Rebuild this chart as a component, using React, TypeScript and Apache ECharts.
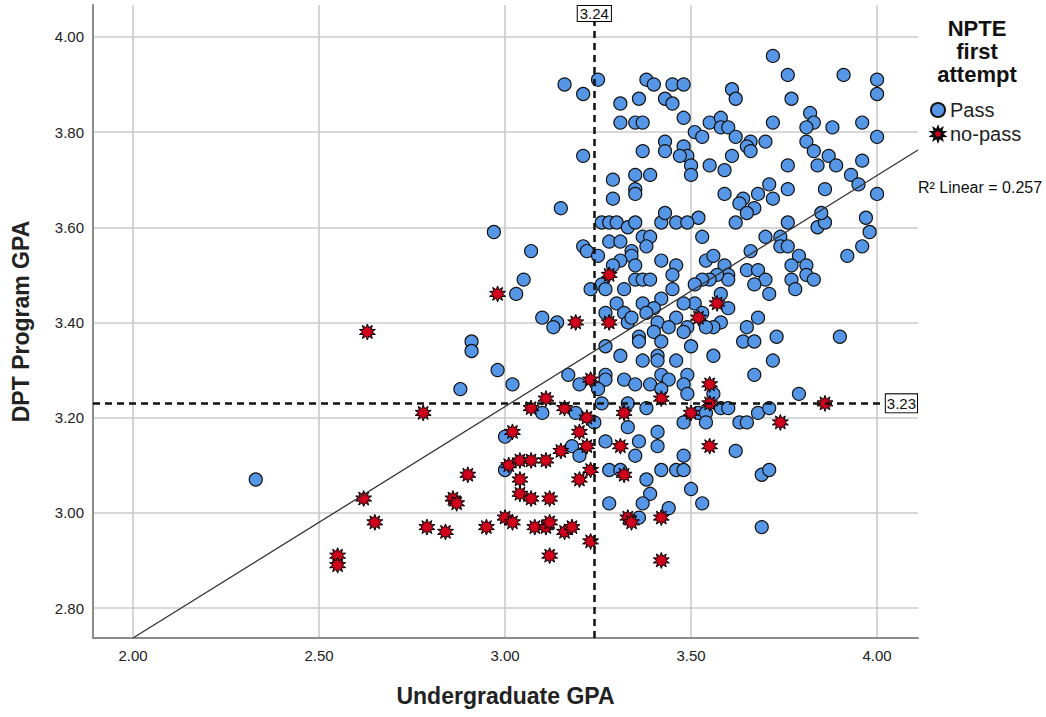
import React, { useEffect, useRef } from 'react';
import * as echarts from 'echarts';

const X_TICKS = [2.0, 2.5, 3.0, 3.5, 4.0];
const Y_TICKS = [2.8, 3.0, 3.2, 3.4, 3.6, 3.8, 4.0];
const X_RANGE = [1.8925, 4.11];
const Y_RANGE = [2.737, 4.067];
const REF_X = 3.24;
const REF_Y = 3.23;
const FIT_INTERCEPT = 1.765;
const FIT_SLOPE = 0.486;
const FIT_START_X = 2.0;
const R2_TEXT = 'R² Linear = 0.257';
const LEGEND_TITLE = 'NPTE\nfirst\nattempt';
const SERIES_NAMES = ['Pass', 'no-pass'];

const PASS = [
  [3.16, 3.90], [3.21, 3.88], [3.25, 3.91], [3.38, 3.91], [3.40, 3.90], [3.45, 3.90], [3.31, 3.86], [3.36, 3.87],
  [3.43, 3.87], [3.45, 3.86], [3.31, 3.82], [3.35, 3.82], [3.37, 3.82], [3.43, 3.78], [3.37, 3.76], [3.21, 3.75],
  [3.43, 3.76], [3.29, 3.70], [3.35, 3.71], [3.39, 3.71], [3.35, 3.68], [3.35, 3.67], [3.29, 3.66], [3.15, 3.64],
  [3.72, 3.96], [3.76, 3.92], [3.91, 3.92], [4.00, 3.91], [4.00, 3.88], [3.48, 3.90], [3.61, 3.89], [3.62, 3.87],
  [3.77, 3.87], [3.48, 3.83], [3.55, 3.82], [3.58, 3.83], [3.58, 3.81], [3.60, 3.81], [3.62, 3.79], [3.72, 3.82],
  [3.82, 3.84], [3.83, 3.82], [3.81, 3.81], [3.88, 3.81], [3.96, 3.82], [4.00, 3.79], [3.51, 3.80], [3.53, 3.79],
  [3.66, 3.78], [3.65, 3.77], [3.66, 3.76], [3.70, 3.78], [3.81, 3.78], [3.83, 3.76], [3.87, 3.75], [3.89, 3.73],
  [3.96, 3.74], [3.84, 3.73], [3.76, 3.73], [3.61, 3.75], [3.55, 3.73], [3.59, 3.72], [3.48, 3.77], [3.49, 3.75],
  [3.50, 3.73], [3.50, 3.71], [3.47, 3.75], [3.93, 3.71], [3.95, 3.69], [4.00, 3.67], [3.71, 3.69], [3.68, 3.67],
  [3.72, 3.66], [3.76, 3.68], [3.86, 3.68], [3.59, 3.67], [3.64, 3.66], [3.63, 3.65], [3.67, 3.64],
  [2.97, 3.59], [3.07, 3.55], [3.05, 3.49], [3.03, 3.46], [2.98, 3.30], [3.02, 3.27], [3.10, 3.41], [3.14, 3.40],
  [3.13, 3.39], [3.21, 3.56], [3.22, 3.55], [3.25, 3.54], [3.26, 3.61], [3.28, 3.61], [3.30, 3.61], [3.33, 3.60],
  [3.35, 3.61], [3.42, 3.61], [3.43, 3.63], [3.46, 3.61], [3.37, 3.58], [3.39, 3.58], [3.38, 3.56], [3.28, 3.57],
  [3.31, 3.57], [3.34, 3.55], [3.34, 3.54], [3.31, 3.53], [3.29, 3.52], [3.35, 3.52], [3.42, 3.53], [3.46, 3.52],
  [3.45, 3.50], [3.35, 3.49], [3.37, 3.49], [3.39, 3.49], [3.26, 3.48], [3.27, 3.47], [3.23, 3.47], [3.32, 3.47],
  [3.45, 3.47], [3.42, 3.45], [3.30, 3.44], [3.37, 3.44], [3.40, 3.43], [3.38, 3.42], [3.27, 3.42], [3.32, 3.42],
  [3.33, 3.40], [3.34, 3.41], [3.41, 3.40], [3.46, 3.41], [3.44, 3.39], [3.40, 3.38], [3.36, 3.37], [3.36, 3.36],
  [3.42, 3.36], [3.27, 3.35], [3.31, 3.33], [3.41, 3.33], [3.41, 3.32], [3.37, 3.32], [3.46, 3.32], [3.17, 3.29],
  [3.27, 3.29], [3.27, 3.28], [3.32, 3.28], [3.35, 3.27], [3.42, 3.29], [3.44, 3.28], [3.39, 3.27], [3.20, 3.27],
  [3.25, 3.26],
  [3.52, 3.62], [3.49, 3.61], [3.62, 3.61], [3.65, 3.63], [3.76, 3.61], [3.84, 3.60], [3.86, 3.61], [3.85, 3.63],
  [3.97, 3.62], [3.98, 3.59], [3.53, 3.58], [3.70, 3.58], [3.74, 3.58], [3.74, 3.56], [3.76, 3.56], [3.66, 3.55],
  [3.79, 3.54], [3.96, 3.56], [3.92, 3.54], [3.54, 3.53], [3.56, 3.54], [3.59, 3.52], [3.77, 3.52], [3.81, 3.52],
  [3.81, 3.50], [3.83, 3.49], [3.77, 3.49], [3.78, 3.47], [3.65, 3.51], [3.68, 3.51], [3.70, 3.49], [3.67, 3.48],
  [3.71, 3.46], [3.60, 3.50], [3.60, 3.49], [3.57, 3.50], [3.55, 3.49], [3.53, 3.49], [3.51, 3.48], [3.58, 3.46],
  [3.51, 3.44], [3.48, 3.44], [3.53, 3.42], [3.60, 3.43], [3.68, 3.41], [3.58, 3.40], [3.56, 3.39], [3.54, 3.39],
  [3.49, 3.39], [3.48, 3.38], [3.65, 3.39], [3.64, 3.36], [3.67, 3.36], [3.73, 3.37], [3.90, 3.37], [3.50, 3.35],
  [3.56, 3.33], [3.72, 3.32], [3.67, 3.29], [3.49, 3.29], [3.48, 3.27],
  [3.26, 3.23], [3.33, 3.23], [3.38, 3.22], [3.10, 3.21], [3.19, 3.21], [3.24, 3.19], [3.33, 3.18], [3.41, 3.17],
  [3.00, 3.16], [3.27, 3.15], [3.36, 3.15], [3.41, 3.14], [3.18, 3.14], [3.20, 3.12], [3.35, 3.12], [3.28, 3.09],
  [3.31, 3.09], [3.42, 3.09], [3.46, 3.09], [3.00, 3.09], [3.38, 3.07], [3.39, 3.04], [3.37, 3.02], [3.28, 3.02],
  [3.44, 3.01], [3.36, 2.99], [3.42, 3.26],
  [3.79, 3.25], [3.49, 3.25], [3.56, 3.25], [3.52, 3.21], [3.54, 3.21], [3.58, 3.22], [3.60, 3.22], [3.68, 3.21],
  [3.71, 3.22], [3.48, 3.19], [3.54, 3.19], [3.63, 3.19], [3.65, 3.19], [3.62, 3.13], [3.48, 3.12], [3.48, 3.09],
  [3.69, 3.08], [3.71, 3.09], [3.50, 3.05], [3.53, 3.02], [3.69, 2.97],
  [2.33, 3.07], [2.91, 3.36], [2.91, 3.34], [2.88, 3.26],
];

const NO_PASS = [
  [2.63, 3.38], [2.98, 3.46], [2.78, 3.21], [2.90, 3.08], [2.62, 3.03], [2.65, 2.98], [2.55, 2.91], [2.55, 2.89],
  [2.79, 2.97], [2.84, 2.96], [2.86, 3.03], [2.87, 3.02], [2.95, 2.97], [3.19, 3.40], [3.28, 3.40], [3.28, 3.50],
  [3.23, 3.28], [3.57, 3.44], [3.52, 3.41], [3.55, 3.27], [3.55, 3.23], [3.50, 3.21], [3.74, 3.19], [3.86, 3.23],
  [3.55, 3.14], [3.11, 3.24], [3.07, 3.22], [3.16, 3.22], [3.22, 3.20], [3.32, 3.21], [3.42, 3.24], [3.02, 3.17],
  [3.20, 3.17], [3.22, 3.14], [3.31, 3.14], [3.15, 3.13], [3.01, 3.10], [3.04, 3.11], [3.07, 3.11], [3.11, 3.11],
  [3.23, 3.09], [3.20, 3.07], [3.32, 3.08], [3.04, 3.07], [3.04, 3.04], [3.07, 3.03], [3.12, 3.03], [3.00, 2.99],
  [3.02, 2.98], [3.08, 2.97], [3.11, 2.97], [3.12, 2.98], [3.16, 2.96], [3.18, 2.97], [3.23, 2.94], [3.33, 2.99],
  [3.34, 2.98], [3.42, 2.99], [3.12, 2.91], [3.42, 2.90],
];

function starPath(points: number, inner: number): string {
  let d = '';
  for (let i = 0; i < points * 2; i++) {
    const r = i % 2 ? inner : 1;
    const a = (Math.PI * i) / points - Math.PI / 2;
    d += (i ? 'L' : 'M') + (r * Math.cos(a) * 50).toFixed(2) + ' ' + (r * Math.sin(a) * 50).toFixed(2);
  }
  return 'path://' + d + 'Z';
}

const FONT = '"Liberation Sans", Arial, sans-serif';

export default function App() {
  const ref = useRef<HTMLDivElement>(null);
  useEffect(() => {
    document.body.style.margin = '0';
    if (!ref.current) return;
    const chart = echarts.init(ref.current, undefined, { renderer: 'svg' });
    const fit = (x: number) => FIT_INTERCEPT + FIT_SLOPE * x;
    const STAR = starPath(10, 0.55);
    chart.setOption({
      animation: false,
      textStyle: { fontFamily: FONT },
      grid: { left: 93, right: 128, top: 5, bottom: 79 },
      xAxis: {
        type: 'value',
        min: X_RANGE[0],
        max: X_RANGE[1],
        name: 'Undergraduate GPA',
        nameLocation: 'middle',
        nameGap: 46,
        nameTextStyle: { fontSize: 23, fontWeight: 'bold', color: '#222', fontFamily: FONT },
        axisLine: { show: true, onZero: false, lineStyle: { color: '#8c8c8c', width: 2 } },
        axisTick: { show: false, customValues: X_TICKS },
        axisLabel: { customValues: X_TICKS, formatter: (v: number) => v.toFixed(2), fontSize: 15, color: '#222', margin: 10 },
        splitLine: { show: true, lineStyle: { color: '#cbcbcb', width: 1.6 } },
      },
      yAxis: {
        type: 'value',
        min: Y_RANGE[0],
        max: Y_RANGE[1],
        name: 'DPT Program GPA',
        nameLocation: 'middle',
        nameGap: 61,
        nameTextStyle: { fontSize: 23, fontWeight: 'bold', color: '#222', fontFamily: FONT },
        axisLine: { show: true, onZero: false, lineStyle: { color: '#8c8c8c', width: 2 } },
        axisTick: { show: false, customValues: Y_TICKS },
        axisLabel: { customValues: Y_TICKS, formatter: (v: number) => v.toFixed(2), fontSize: 15, color: '#222', margin: 9 },
        splitLine: { show: true, lineStyle: { color: '#cbcbcb', width: 1.6 } },
      },
      legend: {
        data: SERIES_NAMES,
        orient: 'vertical',
        left: 930,
        top: 100,
        padding: 0,
        itemWidth: 14,
        itemHeight: 14,
        itemGap: 4,
        selectedMode: false,
        textStyle: { fontSize: 20, color: '#222', fontFamily: FONT },
      },
      series: [
        {
          type: 'scatter',
          name: SERIES_NAMES[0],
          data: PASS,
          symbol: 'circle',
          symbolSize: 13,
          itemStyle: { color: '#5596E6', borderColor: '#111', borderWidth: 1.2, opacity: 1 },
          z: 3,
        },
        {
          type: 'scatter',
          name: SERIES_NAMES[1],
          data: NO_PASS,
          symbol: STAR,
          symbolSize: 16,
          itemStyle: { color: '#D0001C', borderColor: '#000', borderWidth: 1, opacity: 1 },
          z: 4,
        },
        {
          type: 'line',
          name: 'fit',
          data: [[FIT_START_X, fit(FIT_START_X)], [X_RANGE[1], fit(X_RANGE[1])]],
          symbol: 'none',
          showSymbol: false,
          clip: true,
          silent: true,
          lineStyle: { color: '#333', width: 1.3 },
          z: 5,
          markLine: {
            silent: true,
            symbol: 'none',
            label: { show: false },
            lineStyle: { type: [7, 5], color: '#111', width: 2.5 },
            data: [{ xAxis: REF_X }, { yAxis: REF_Y }],
          },
        },
      ],
    });
    const top = chart.convertToPixel({ gridIndex: 0 }, [REF_X, Y_RANGE[1]]) as number[];
    const right = chart.convertToPixel({ gridIndex: 0 }, [X_RANGE[1], REF_Y]) as number[];
    chart.setOption({
      graphic: [
        {
          type: 'text',
          x: top[0],
          y: top[1] + 1,
          z: 100,
          style: {
            text: REF_X.toFixed(2),
            align: 'center',
            verticalAlign: 'top',
            font: '15px ' + FONT,
            fill: '#111',
            backgroundColor: '#fff',
            borderColor: '#000',
            borderWidth: 1,
            padding: [0, 2, 0, 2],
          },
        },
        {
          type: 'text',
          x: right[0] - 1,
          y: right[1],
          z: 100,
          style: {
            text: REF_Y.toFixed(2),
            align: 'right',
            verticalAlign: 'middle',
            font: '15px ' + FONT,
            fill: '#111',
            backgroundColor: '#fff',
            borderColor: '#000',
            borderWidth: 1,
            padding: [2, 1, 1, 1],
          },
        },
        {
          type: 'text',
          x: 977,
          y: 17,
          style: {
            text: LEGEND_TITLE,
            align: 'center',
            verticalAlign: 'top',
            font: 'bold 22px ' + FONT,
            lineHeight: 23,
            fill: '#111',
          },
        },
        {
          type: 'text',
          x: 918,
          y: 187,
          style: {
            text: R2_TEXT,
            align: 'left',
            verticalAlign: 'middle',
            font: '16px ' + FONT,
            fill: '#111',
          },
        },
      ],
    });
    return () => chart.dispose();
  }, []);
  return <div ref={ref} style={{ width: 1046, height: 717 }} />;
}
